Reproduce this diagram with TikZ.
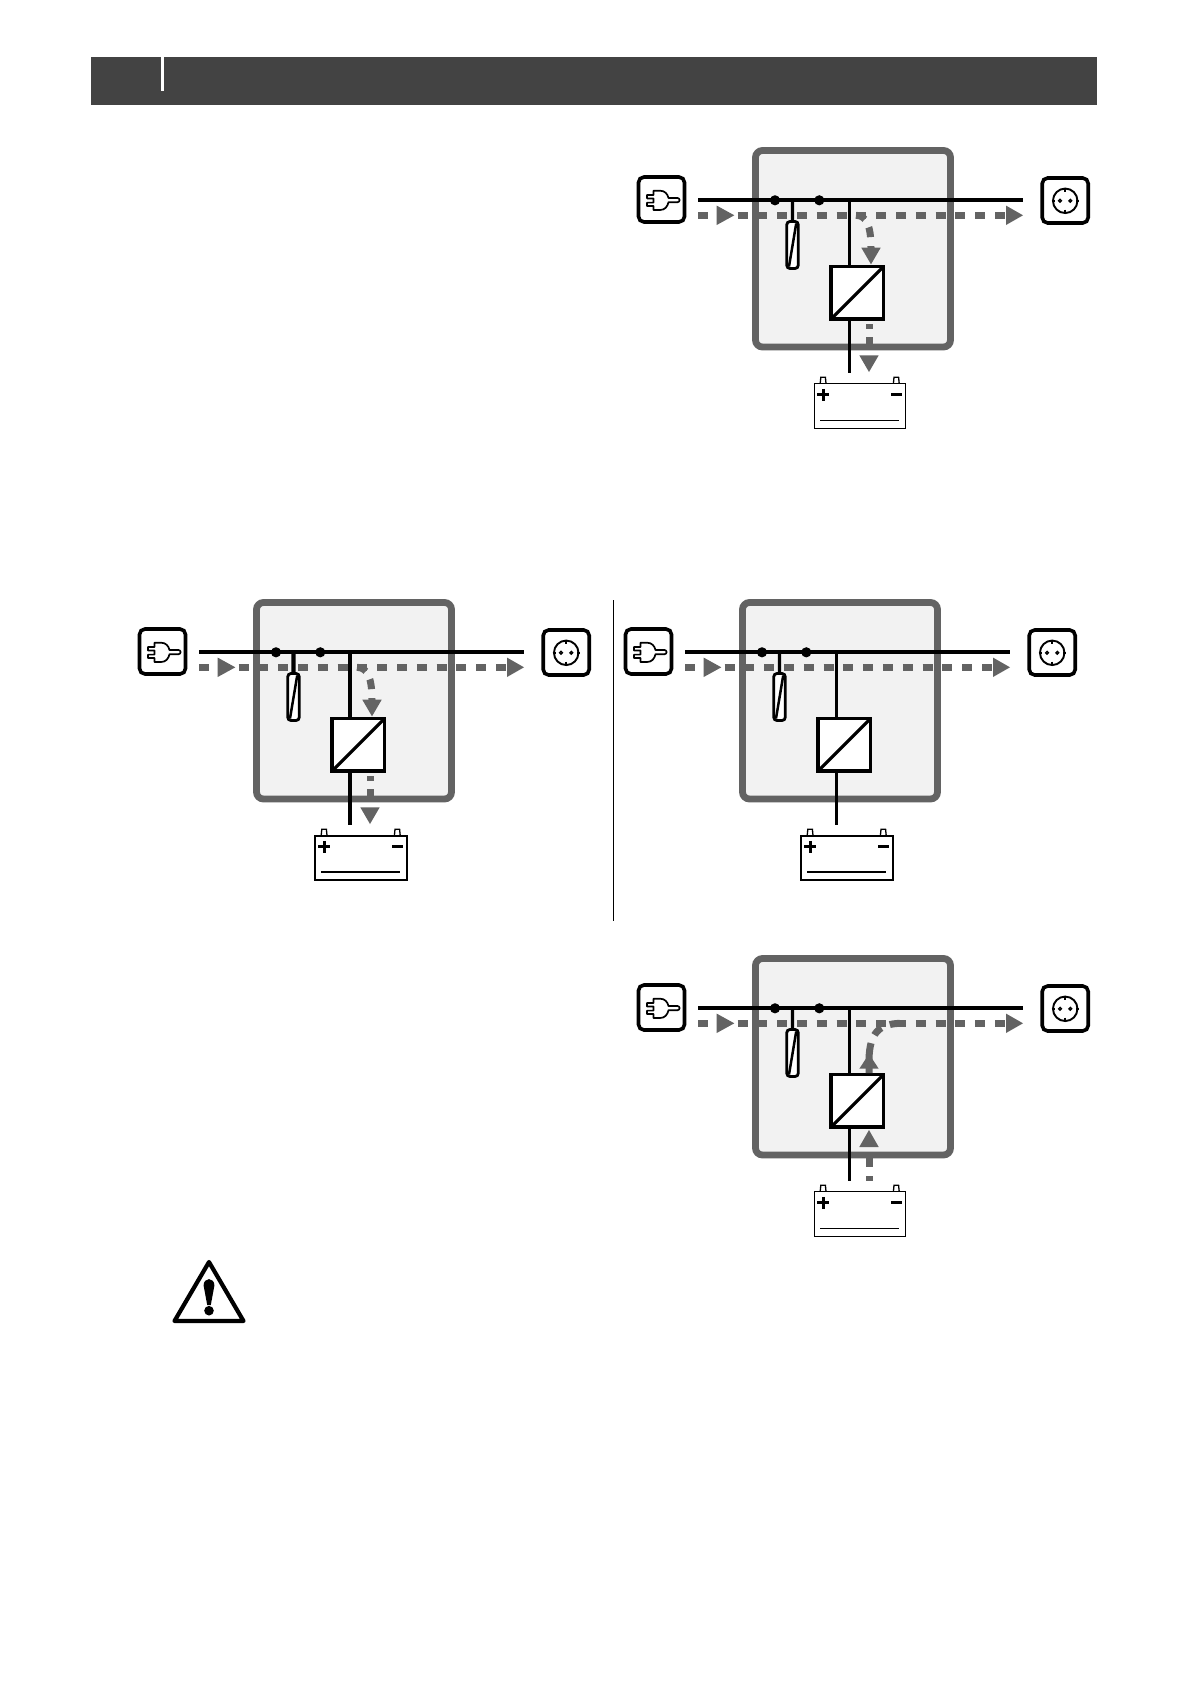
\documentclass[tikz,border=0pt]{standalone}
\definecolor{hdr}{HTML}{434343}
\definecolor{flowgray}{HTML}{636363}
\definecolor{boxfill}{HTML}{F2F2F2}
\tikzset{
  x=1pt,y=-1pt,
  unitbox/.style={draw=flowgray,fill=boxfill,line width=6.8pt,rounded corners=7pt,inner sep=0pt,minimum width=195pt,minimum height=196.5pt},
  iconbox/.style={draw=black,fill=white,line width=3.6pt,rounded corners=5.5pt,inner sep=0pt,minimum width=46pt,minimum height=45pt},
  fusebox/.style={draw=black,fill=white,line width=2.8pt,rounded corners=3.2pt,inner sep=0pt,minimum width=11.5pt,minimum height=47pt},
  convbox/.style={draw=black,fill=white,line width=3.6pt,inner sep=0pt,outer sep=0pt,minimum width=52.5pt,minimum height=52.5pt},
  batbox/.style={draw=black,fill=white,inner sep=0pt,minimum width=91.4pt,minimum height=44.6pt},
  dotnode/.style={circle,fill=black,inner sep=0pt,minimum size=10.2pt},
  bus/.style={draw=black,line width=3.8pt},
  flow/.style={draw=flowgray,line width=7pt},
  flowtip/.style={fill=flowgray,draw=none},
  iconline/.style={draw=black,line width=1.7pt,line join=round}
}
% #1 prefix, #2 dx, #3 dy, #4 vertical width, #5 battery border, #6 battery line, #7 flow mode (0,1,2)
\newcommand{\drawunit}[7]{%
\begin{scope}[shift={(#2,#3)}]
  \node[unitbox] (#1box) at (853,248.75) {};
  \node[iconbox] (#1plug) at (661.5,199.5) {};
  \node[iconbox] (#1sock) at (1065.2,200.5) {};
  \node[batbox,line width=#5pt] (#1bat) at (860,406) {};
  % plug glyph
  \draw[iconline] (653.5,190.7) -- (660,190.7) .. controls (665,190.7) and (667.5,194) .. (668.5,198)
    -- (677.5,198) arc[start angle=90,end angle=-90,radius=2.1pt] -- (668.5,202.2)
    .. controls (667.5,206.5) and (665,210) .. (660,210) -- (653.5,210) -- (653.5,206) -- (647,206)
    -- (647,202.6) -- (653.5,202.6) -- (653.5,198.4) -- (647,198.4) -- (647,195) -- (653.5,195) -- cycle;
  % socket glyph
  \node[circle,draw=black,line width=1.9pt,inner sep=0pt,minimum size=24.5pt] (#1skt) at (1065.2,200.8) {};
  \draw[black,line width=1.7pt] (1065.2,187.5) -- (1065.2,192) (1065.2,209.6) -- (1065.2,214) (1051.5,200.8) -- (1054.5,200.8) (1076,200.8) -- (1079,200.8);
  \node[circle,draw=black,line width=1.3pt,inner sep=0pt,minimum size=2.8pt] (#1holeA) at (1060,200.8) {};
  \node[circle,draw=black,line width=1.3pt,inner sep=0pt,minimum size=2.8pt] (#1holeB) at (1070.3,200.8) {};
  % battery details
  \draw[black,line width=1.3pt] (820.2,383.5) -- (820.8,377.3) -- (825.4,377.3) -- (826,383.5);
  \draw[black,line width=1.3pt] (893.4,383.5) -- (894,377.3) -- (898.6,377.3) -- (899.2,383.5);
  \draw[black,line width=3pt] (817.4,394.7) -- (829.2,394.7) (823.3,388.8) -- (823.3,400.6);
  \draw[black,line width=2.8pt] (891,394.7) -- (902.4,394.7);
  \coordinate (#1blA) at (820,420.3);
  \coordinate (#1blB) at (899,420.3);
  \draw[black,line width=#6pt] (#1blA) -- (#1blB);
  % flow along top
  \coordinate (#1fL) at (698,215.3);
  \coordinate (#1fR) at (1006,215.3);
  \draw[flow,dash pattern=on 10pt off 9.8pt] (#1fL) -- (#1fR);
  \fill[flowtip] (716.7,205.6) -- (734.3,215.3) -- (716.7,225) -- cycle;
  \fill[flowtip] (1006,205.6) -- (1023,215.3) -- (1006,225) -- cycle;
  % bus
  \coordinate (#1bL) at (698,200.3);
  \coordinate (#1bR) at (1023,200.3);
  \coordinate (#1bV) at (849.3,200.3);
  \coordinate (#1bVb) at (849.3,372.7);
  \coordinate (#1bF) at (792.4,200.3);
  \node[fusebox] (#1fuse) at (792.5,245) {};
  \draw[black,line width=#4pt] (#1bF) -- (#1fuse.north);
  \draw[black,line width=2.5pt] (789,266.5) -- (796.2,223.5);
  \draw[bus] (#1bL) -- (#1bR);
  \node[dotnode] (#1dotA) at (775,200.3) {};
  \node[dotnode] (#1dotB) at (819.3,200.3) {};
  \draw[black,line width=#4pt] (#1bV) -- (#1bVb);
  \node[convbox] (#1conv) at (857.2,292.8) {};
  \draw[black,line width=3.2pt,shorten <=0.8pt,shorten >=0.8pt] (#1conv.south west) -- (#1conv.north east);
  \ifcase#7\relax
  \or
    \coordinate (#1cS) at (856,215.3);
    \coordinate (#1cE) at (871,248);
    \draw[flow,dash pattern=on 10pt off 9pt] (#1cS) .. controls (866,215.3) and (871,225) .. (#1cE);
    \fill[flowtip] (861.3,247.7) -- (880.7,247.7) -- (871,264.3) -- cycle;
    \coordinate (#1dS) at (869,324);
    \coordinate (#1dE) at (869,348);
    \draw[flow,dash pattern=on 5pt off 8.3pt on 20pt off 1pt] (#1dS) -- (#1dE);
    \fill[flowtip] (859.3,355.3) -- (878.7,355.3) -- (869,372) -- cycle;
  \or
    \coordinate (#1dS) at (869,372.7);
    \coordinate (#1dE) at (869,338);
    \draw[flow,dash pattern=on 4.7pt off 9.3pt on 9.4pt off 10.6pt on 10pt] (#1dS) -- (#1dE);
    \fill[flowtip] (859.3,339) -- (878.7,339) -- (869,322) -- cycle;
    \coordinate (#1cS) at (869,265);
    \coordinate (#1cE) at (902,215.3);
    \draw[flow,dash pattern=on 30pt off 9pt on 10pt off 9pt on 10pt] (#1cS) -- (869,250) .. controls (870,226) and (878,215.3) .. (#1cE);
    \fill[flowtip] (859.3,260.7) -- (878.7,260.7) -- (869,246) -- cycle;
  \fi
\end{scope}}
\begin{document}
\begin{tikzpicture}
\useasboundingbox[fill=white] (0,0) rectangle (1191,1684);
% header
\node[fill=hdr,inner sep=0pt,minimum width=1006pt,minimum height=48pt] (head) at (594,81) {};
\fill[white] (161,57) rectangle (164,90.7);
% units
\drawunit{a}{0}{0}{3.2}{1.4}{1.4}{1}
\drawunit{b}{-499}{452}{4.2}{1.7}{2.3}{1}
\drawunit{c}{-13}{452}{3.2}{1.7}{2.3}{0}
\drawunit{d}{0}{808}{3.2}{1.4}{1.4}{2}
% divider
\coordinate (divA) at (613.7,600);
\coordinate (divB) at (613.7,920.7);
\draw[black,line width=1.1pt] (divA) -- (divB);
% warning
\draw[black,line width=4.2pt,line join=round] (209,1262) -- (243.5,1321) -- (174.5,1321) -- cycle;
\fill[black] (203.6,1285.5) .. controls (203.6,1277) and (214.4,1277) .. (214.4,1285.5) -- (210.8,1305) -- (207.2,1305) -- cycle;
\fill[black] (209,1310.7) circle[radius=4.8pt];
\end{tikzpicture}
\end{document}
